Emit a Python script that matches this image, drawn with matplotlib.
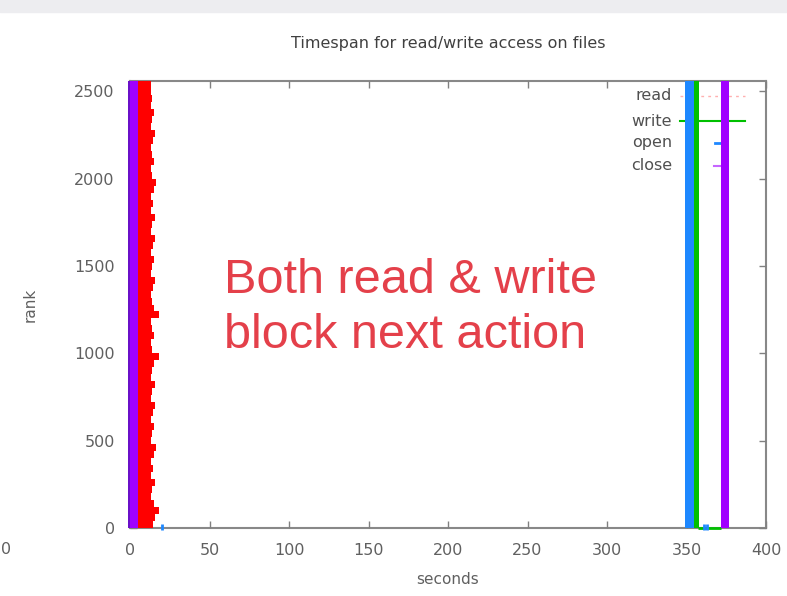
import numpy as np
import matplotlib
matplotlib.use("Agg")
import matplotlib.pyplot as plt

# ranks are grouped in blocks of 40 for drawing the per-rank spans
n_ranks = 2560
block = 40

# end of the first read phase for each block of ranks (seconds), bottom to top
read_end = [14.5, 16.0, 18.5, 15.0, 13.5, 14.0, 15.5, 13.0, 14.5, 13.5,
            15.0, 16.5, 13.5, 14.0, 15.0, 13.0, 14.5, 16.0, 13.5, 14.0,
            15.5, 13.0, 14.0, 15.0, 18.5, 14.0, 13.5, 15.0, 14.0, 13.5,
            18.5, 15.0, 14.0, 13.0, 14.5, 15.5, 13.5, 14.0, 15.0, 13.0,
            14.5, 15.5, 13.5, 14.0, 16.0, 13.5, 14.5, 13.0, 15.0, 16.5,
            14.0, 13.5, 15.0, 14.0, 13.0, 14.5, 15.5, 13.5, 14.0, 15.0,
            13.5, 14.0, 13.5, 13.5]
read_start = 2.0

# spans (start, end) in seconds shared by all ranks
open_span_1 = (-1.5, 0.3)
close_span_1 = (-1.5, 5.0)
open_span_2 = (349.0, 354.5)
write_span = (354.0, 358.0)
close_span_2 = (371.7, 376.7)

# rank 0 stragglers
rank0_open = [20.0, 361.0, 363.0]
rank0_write = (357.5, 371.7)

c_read = "#ff0000"
c_write = "#00c000"
c_open = "#1e88ff"
c_close = "#a000ff"

fig = plt.figure(figsize=(7.87, 5.96), dpi=100)
fig.patches.append(plt.Rectangle((0, 1 - 12 / 596), 1, 12 / 596,
                                 transform=fig.transFigure, color="#ededf0", zorder=0))
ax = fig.add_axes([130 / 787, 68 / 596, 636 / 787, 447 / 596])

blocks = np.arange(0, n_ranks, block)


def span(start, end, color, z):
    ax.barh(blocks, [end - start] * len(blocks), left=start, height=block,
            align="edge", color=color, linewidth=0, zorder=z, clip_on=False)


ax.barh(blocks, np.array(read_end) - read_start, left=read_start, height=block,
        align="edge", color=c_read, linewidth=0, zorder=2)
span(*write_span, c_write, 3)
span(*open_span_2, c_open, 4)
span(*close_span_1, c_close, 5)
span(*close_span_2, c_close, 5)
span(*open_span_1, "#6a10c8", 6)

ax.hlines(0, *rank0_write, color=c_write, lw=2, zorder=3, clip_on=False)
ax.plot(rank0_open, [8] * len(rank0_open), ls="none", marker="|", ms=5, mew=2,
        color=c_open, zorder=4, clip_on=False)

ax.set_xlim(0, 400)
ax.set_ylim(0, n_ranks)
ax.set_xticks(np.arange(0, 401, 50))
ax.set_yticks(np.arange(0, 2501, 500))

tick_color = "#606060"
ax.tick_params(direction="in", length=5, width=1, color="#808080",
               top=True, right=True, labelsize=11.5, labelcolor=tick_color, pad=11)
for s in ax.spines.values():
    s.set_color("#888888")
    s.set_linewidth(1.5)
    s.set_zorder(1)

ax.set_xlabel("seconds", fontsize=11, color=tick_color, labelpad=10)
ax.set_ylabel("rank", fontsize=11, color=tick_color, labelpad=26)
ax.set_title("Timespan for read/write access on files", fontsize=11.5,
             color="#404040", pad=24)

# key in the upper right corner
ty = lambda py: (528 - py) / 447
tx = lambda px: (px - 130) / 636
labels = ["read", "write", "open", "close"]
key_y = [96, 121, 143, 166]
for lab, py in zip(labels, key_y):
    ax.text(tx(672), ty(py), lab, transform=ax.transAxes,
            ha="right", va="center", fontsize=11.5, color="#505050", zorder=7)
ax.plot([tx(680), tx(745)], [ty(96)] * 2, transform=ax.transAxes, color="#ffb0b0",
        lw=1, ls=(0, (2, 3)), zorder=1)
ax.plot([tx(680), tx(745)], [ty(121)] * 2, transform=ax.transAxes, color=c_write,
        lw=1.5, zorder=1, clip_on=False)
ax.plot([tx(715), tx(720)], [ty(143)] * 2, transform=ax.transAxes, color=c_open,
        lw=2, zorder=1)
ax.plot([tx(714), tx(720)], [ty(166)] * 2, transform=ax.transAxes, color=c_close,
        lw=1.5, alpha=0.6, zorder=1)

ax.text(tx(224), ty(308), "Both read & write\nblock next action",
        transform=ax.transAxes, ha="left", va="center", fontsize=35,
        family="Liberation Sans", color="#e4404a", linespacing=1.28, zorder=8)

fig.text(1 / 787, 1 - 549 / 596, "0", ha="left", va="center", fontsize=11.5,
         color=tick_color)

fig.savefig("out.png", dpi=100)
